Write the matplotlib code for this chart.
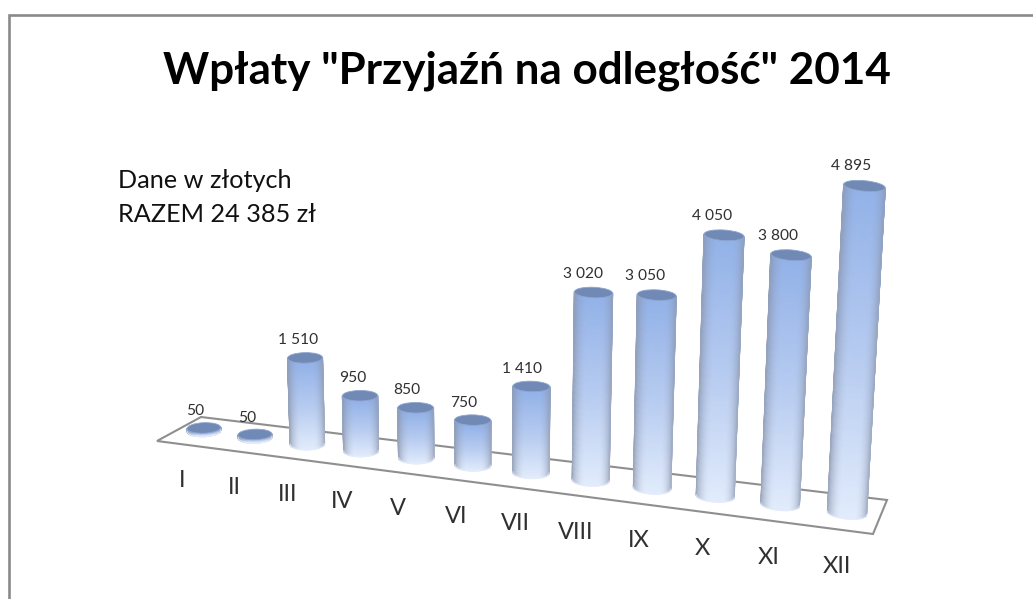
import numpy as np
import matplotlib
matplotlib.use("Agg")
import matplotlib.pyplot as plt
from matplotlib.patches import Ellipse, Polygon

plt.rcParams['font.family'] = ['Lato', 'DejaVu Sans']

months = ["I", "II", "III", "IV", "V", "VI", "VII", "VIII", "IX", "X", "XI", "XII"]
values = [50, 50, 1510, 950, 850, 750, 1410, 3020, 3050, 4050, 3800, 4895]

title = 'Wpłaty "Przyjaźń na odległość" 2014'
note1 = "Dane w złotych"
note2 = "RAZEM 24 385 zł"

# all in pixels of the final picture, y pointing down
fig = plt.figure(figsize=(10.33, 5.99), dpi=100)
ax = fig.add_axes([0, 0, 1, 1])
ax.set_xlim(0, 1033)
ax.set_ylim(599, 0)
ax.axis("off")

# frame, only top and left are inside the crop
ax.plot([9, 9, 1033], [599, 15, 15], color="#8a8a8a", lw=1.9, solid_joinstyle="miter")

ax.text(527, 70.5, title, fontsize=31.7, fontweight="bold", color="black", ha="center", va="center")
ax.text(118, 180, note1, fontsize=18.2, color="#111111", ha="left", va="center")
ax.text(118, 215, note2, fontsize=18.2, color="#111111", ha="left", va="center")

# floor
floor = Polygon([(157, 441), (201, 417), (887, 500), (873, 534)], closed=True,
                facecolor="white", edgecolor="#8f8f8f", lw=1.5, zorder=1)
ax.add_patch(floor)


def base_x(i):
    # perspective spacing along the floor
    t = i / 11
    r = 1.16
    return 204 + 643 * t / (t + (1 - t) * r)


def mix(a, b, k):
    return a + (b - a) * k


top_col = np.array([0x93, 0xb2, 0xe8]) / 255
mid_col = np.array([0xb6, 0xcb, 0xf0]) / 255
low_col = np.array([0xe2, 0xec, 0xfc]) / 255
edge_col = np.array([0x88, 0x93, 0xab]) / 255

for i, (m, v) in enumerate(zip(months, values)):
    bx = base_x(i)
    by = 444 + 0.128 * (bx - 308)
    h = v * (0.057 + (bx - 308) * 0.0000182)
    w = 33.5 + (bx - 204) * 0.0086
    w_top = w * (1 + 0.0002 * h)
    tx = bx + (bx - 490) * 0.00015 * h
    ty = by - h
    angle = (bx - 400) * 0.012
    tilt = np.tan(np.radians(angle))

    th = np.linspace(np.pi, 0, 61)
    s = np.linspace(0, 1, 31)
    xx = np.zeros((len(s), len(th)))
    yy = np.zeros((len(s), len(th)))
    rgb = np.zeros((len(s), len(th), 3))
    u = (np.cos(th) + 1) / 2
    for j, sj in enumerate(s):
        cx = mix(tx, bx, sj)
        cy = mix(ty, by, sj)
        ww = mix(w_top, w, sj) / 2
        bb = mix(5, 6, sj)
        xx[j] = cx + ww * np.cos(th)
        yy[j] = cy + bb * np.sin(th) + tilt * ww * np.cos(th)
        # colour: vertical gradient, darker to the sides
        if sj < 0.5:
            base = mix(top_col, mid_col, sj / 0.5)
        else:
            base = mix(mid_col, low_col, (sj - 0.5) / 0.5)
        for k, uk in enumerate(u):
            dark = 0.7 * (1 - uk / 0.35) ** 2 if uk < 0.35 else 0.55 * ((uk - 0.7) / 0.3) ** 2 if uk > 0.7 else 0
            rgb[j, k] = mix(base, edge_col, dark)
    ax.pcolormesh(xx, yy, rgb, shading="gouraud", zorder=2 + i * 0.01)
    # soft side and bottom outline, hides the stairs of the mesh
    ax.plot(xx[:, 0], yy[:, 0], color="#98a3ba", lw=0.9, alpha=0.5, zorder=2.5 + i * 0.01)
    ax.plot(xx[:, -1], yy[:, -1], color="#98a3ba", lw=0.9, alpha=0.4, zorder=2.5 + i * 0.01)
    ax.plot(xx[-1], yy[-1], color="#e8eefa", lw=0.9, alpha=0.7, zorder=2.5 + i * 0.01)

    # cap
    ax.add_patch(Ellipse((tx, ty), w_top, 10.5, angle=angle, facecolor="#7189b5", edgecolor="#8ea6d0",
                         lw=0.6, zorder=3 + i * 0.01))

    txt = f"{v:,}".replace(",", " ")
    ax.text(tx - 7 - abs(bx - 308) * 0.0125, ty - 16.8 - 0.01 * h, txt, fontsize=11.2, color="#303030",
            ha="center", va="center", zorder=5)
    ax.text(bx - 22 + (bx - 204) * 0.0187, by + 49.5 + (bx - 204) * 0.006, m, fontsize=17, color="#303030",
            ha="center", va="center", zorder=5)

fig.savefig("out.png", dpi=100, facecolor="white")
